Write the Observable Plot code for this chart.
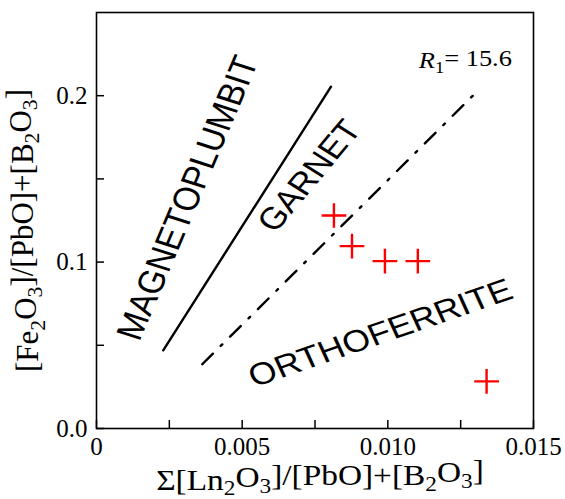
<!DOCTYPE html>
<html>
<head>
<meta charset="utf-8">
<script src="https://cdn.jsdelivr.net/npm/d3@7"></script>
<script src="https://cdn.jsdelivr.net/npm/@observablehq/plot@0.6"></script>
<style>
  html, body { margin: 0; padding: 0; background: #fff; }
  #chart svg { display: block; }
</style>
</head>
<body>
<div id="chart"></div>
<script>
// ---- data ----
const xTicks = [0, 0.005, 0.010, 0.015];
const xTickLabels = ["0", "0.005", "0.010", "0.015"];
const xMinorTicks = [0.0025, 0.0075, 0.0125];
const yTicks = [0, 0.1, 0.2];
const yTickLabels = ["0.0", "0.1", "0.2"];
const yMinorTicks = [0.05, 0.15];

const pointsX = [0.00815, 0.00877, 0.0099, 0.01103, 0.01339];
const pointsY = [0.128, 0.1096, 0.1006, 0.1006, 0.0283];

const solidLineX = [0.00229, 0.00805];
const solidLineY = [0.047, 0.2054];
const dashLineX = [0.00363, 0.01315];
const dashLineY = [0.0386, 0.204];

const regionNames = ["MAGNETOPLUMBIT", "GARNET", "ORTHOFERRITE"];
const regionX = [0.00314, 0.00731, 0.00975];
const regionY = [0.1385, 0.1518, 0.0572];
const regionAngle = [-67, -50, -19];

const ratioLabel = "R_1= 15.6";
const ratioX = [0.01106];
const ratioY = [0.221];

const xTitle = "Σ[Ln_2O_3]/[PbO]+[B_2O_3]";
const yTitle = "[Fe_2O_3]/[PbO]+[B_2O_3]";

// ---- tables ----
const points = pointsX.map((x, i) => ({x, y: pointsY[i]}));
const solidLine = solidLineX.map((x, i) => ({x, y: solidLineY[i]}));
const dashLine = dashLineX.map((x, i) => ({x, y: dashLineY[i]}));
const regions = regionNames.map((name, i) => ({name, x: regionX[i], y: regionY[i], a: regionAngle[i]}));

const serif = "'Liberation Serif', 'Times New Roman', serif";
const sans = "'Liberation Sans', Arial, sans-serif";
const stretch = 1.15; // horizontal glyph stretch seen in the reference
const regionFontSize = {MAGNETOPLUMBIT: 32, GARNET: 31, ORTHOFERRITE: 31};

const chart = Plot.plot({
  width: 565,
  height: 499,
  marginLeft: 96,
  marginRight: 32,
  marginTop: 12,
  marginBottom: 71,
  style: {fontFamily: serif, background: "#fff", color: "#000"},
  x: {domain: [0, 0.015]},
  y: {domain: [0, 0.25]},
  marks: [
    // inward ticks
    Plot.axisX({ticks: xTicks.concat(xMinorTicks), tickSize: 8, dy: -8, tickFormat: () => "", strokeWidth: 1.5, label: null}),
    Plot.axisY({ticks: yTicks.concat(yMinorTicks), tickSize: 8, dx: 8, tickFormat: () => "", strokeWidth: 1.5, label: null}),
    // tick labels
    Plot.axisX({ticks: xTicks, tickSize: 0, tickPadding: 9, tickFormat: (d, i) => xTickLabels[i], fontSize: 25, fontFamily: serif, label: null}),
    Plot.axisY({ticks: yTicks, tickSize: 0, tickPadding: 9, tickFormat: (d, i) => yTickLabels[i], fontSize: 25, fontFamily: serif, label: null}),
    Plot.frame({stroke: "#000", strokeWidth: 1.6}),
    Plot.line(solidLine, {x: "x", y: "y", stroke: "#000", strokeWidth: 2.4}),
    Plot.line(dashLine, {x: "x", y: "y", stroke: "#000", strokeWidth: 2.4, strokeDasharray: "15,11,2.2,11"}),
    Plot.dot(points, {x: "x", y: "y", symbol: "plus", r: 8, stroke: "#ff0000", strokeWidth: 2.4}),
    Plot.text(regions, {x: "x", y: "y", text: "name", rotate: "a", fontFamily: sans, fontSize: d => regionFontSize[d.name], fill: "#000", textAnchor: "middle", lineAnchor: "middle", className: "region-label"}),
    Plot.text([ratioLabel], {x: () => ratioX[0], y: () => ratioY[0], text: d => d, textAnchor: "start", lineAnchor: "middle", fontSize: 23, fontFamily: serif, fill: "#000", className: "ratio-label"}),
    Plot.text([xTitle], {frameAnchor: "bottom", dy: 52, dx: 5, text: d => d, fontSize: 29, fontFamily: serif, fill: "#000", textAnchor: "middle", lineAnchor: "middle", className: "x-title"}),
    Plot.text([yTitle], {frameAnchor: "left", dx: -68, dy: 10, rotate: -90, text: d => d, fontSize: 31, fontFamily: serif, fill: "#000", textAnchor: "middle", lineAnchor: "middle", className: "y-title"})
  ]
});

document.getElementById("chart").appendChild(chart);
const svg = d3.select(chart);

// remove empty tick texts (tick-only axes)
svg.selectAll("text").filter(function() { return this.textContent === ""; }).remove();

// subscript markup: "_X" makes X a subscript; optional italic first character
function applySubscripts(textEl, italicFirst) {
  const raw = textEl.textContent;
  textEl.textContent = "";
  const sel = d3.select(textEl);
  let buf = "";
  let i = 0;
  const flush = () => { if (buf) { sel.append("tspan").text(buf); buf = ""; } };
  if (italicFirst) { sel.append("tspan").attr("font-style", "italic").text(raw[0]); i = 1; }
  while (i < raw.length) {
    const c = raw[i];
    if (c === "_") {
      flush();
      sel.append("tspan").attr("font-size", "0.7em").attr("dy", "0.28em").text(raw[i + 1]);
      sel.append("tspan").attr("dy", "-0.28em").text(raw[i + 2] || "");
      i += 3;
    } else {
      buf += c;
      i++;
    }
  }
  flush();
}
svg.selectAll(".x-title text, .y-title text").each(function() { applySubscripts(this, false); });
svg.selectAll(".ratio-label text").each(function() { applySubscripts(this, true); });

// horizontal stretch for horizontal texts
svg.selectAll(".x-title text, .ratio-label text").each(function() {
  const len = this.getComputedTextLength();
  d3.select(this).attr("textLength", len * stretch).attr("lengthAdjust", "spacingAndGlyphs");
});

// rotated region labels: stretched horizontally, keep on-screen angle
svg.selectAll(".region-label text").each(function(_, i) {
  const tr = this.getAttribute("transform") || "";
  const m = tr.match(/translate\(([^,\s]+)[,\s]+([^)]+)\)/);
  if (!m) return;
  const screenAngle = regionAngle[i] * Math.PI / 180;
  const origAngle = Math.atan(Math.tan(screenAngle) * stretch) * 180 / Math.PI;
  this.setAttribute("transform", `translate(${m[1]},${m[2]}) scale(${stretch},1) rotate(${origAngle})`);
});
</script>
</body>
</html>
